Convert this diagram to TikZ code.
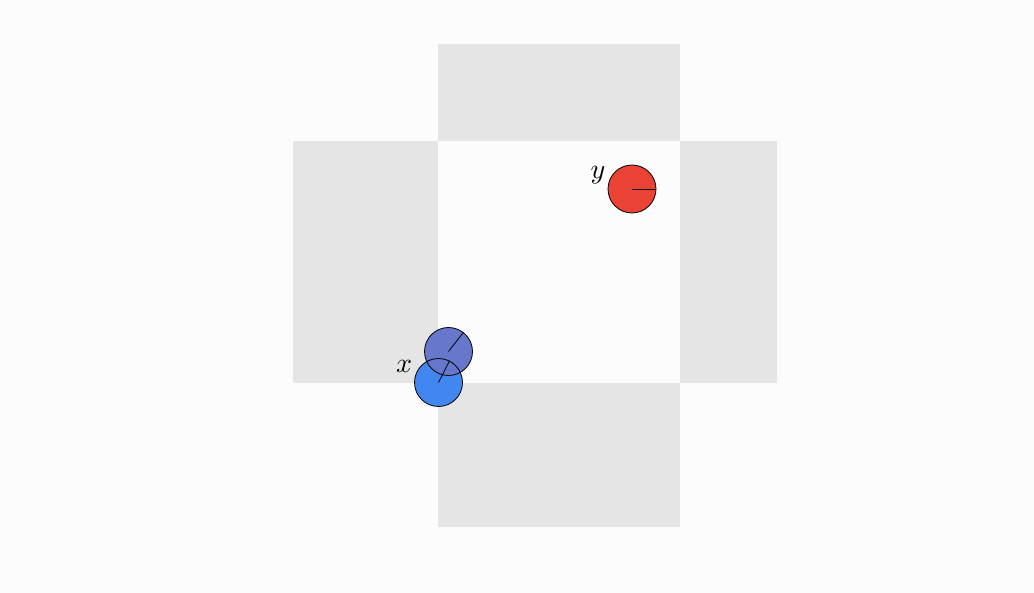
\documentclass[tikz,border=0pt]{standalone}
\usepackage{graphicx}
\definecolor{bg}{HTML}{FCFCFC}
\definecolor{cell}{HTML}{E5E5E5}
\definecolor{redc}{HTML}{EA4335}
\definecolor{bluec}{HTML}{4286F0}
\definecolor{slatec}{HTML}{6677CC}
\tikzset{
  agent/.style={circle, minimum size=48pt, inner sep=0pt, draw=black, line width=0.8pt},
  lbl/.style={inner sep=0pt}
}
\begin{document}
\begin{tikzpicture}[x=1pt,y=-1pt]
\fill[bg] (0,0) rectangle (1034,593);
\useasboundingbox (0,0) rectangle (1034,593);
% gray cells
\fill[cell] (438,44) rectangle (680,141);
\fill[cell] (293,141) rectangle (438,383);
\fill[cell] (680,141) rectangle (777,383);
\fill[cell] (438,383) rectangle (680,527);
% fills
\node[agent, draw=none, fill=bluec] (xa) at (438.5,382.5) {};
\node[agent, draw=none, fill=slatec] (xb) at (448.5,351.5) {};
\node[agent, fill=redc] (ya) at (632,189) {};
% outlines and headings
\node[agent] (xa2) at (438.5,382.5) {};
\node[agent] (xb2) at (448.5,351.5) {};
\draw[line width=0.8pt] (xa2.center) -- (xa2.63);
\draw[line width=0.8pt] (xb2.center) -- (xb2.52);
\draw[line width=0.8pt] (ya.center) -- (ya.0);
% labels
\node[lbl] (lx) at (404,366) {\scalebox{2.8}{$x$}};
\node[lbl] (ly) at (598,175) {\scalebox{2.8}{$y$}};
\end{tikzpicture}
\end{document}
